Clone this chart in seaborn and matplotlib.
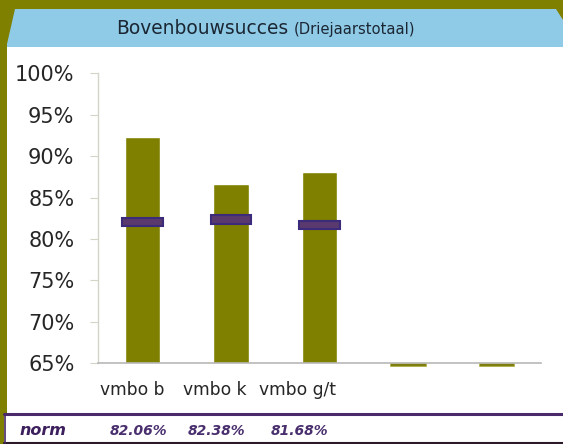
import matplotlib
matplotlib.use("Agg")
import matplotlib.pyplot as plt
from matplotlib.patches import Polygon, Rectangle
from matplotlib.lines import Line2D
from matplotlib.ticker import FuncFormatter
import matplotlib.transforms as mtransforms
import numpy as np
import pandas as pd
import seaborn as sns

# ---- data ----
categories = ["vmbo b", "vmbo k", "vmbo g/t", "", " "]
tick_labels = ["vmbo b", "vmbo k", "vmbo g/t", "", ""]
values = [92.26, 86.63, 88.10, np.nan, np.nan]
norms = [82.06, 82.38, 81.68, np.nan, np.nan]
norm_labels = ["82.06%", "82.38%", "81.68%"]
y_ticks = [65, 70, 75, 80, 85, 90, 95, 100]
title_main = "Bovenbouwsucces"
title_sub = "(Driejaarstotaal)"
norm_title = "norm"

OLIVE = "#7f7f00"
PURPLE_FILL = "#5a3a6e"
PURPLE_EDGE = "#3c2a7a"
BLUE = "#8fcae6"

sns.set_theme(style="white")
plt.rcParams["font.family"] = ["DejaVu Sans"]

W, H = 563, 444
fig = plt.figure(figsize=(W / 100, H / 100), dpi=100, facecolor=OLIVE)

def fx(px):
    return px / W

def fy(py):
    return 1 - py / H

# white panel
fig.patches.append(Rectangle((fx(7), 0), 1 - fx(7), fy(47), transform=fig.transFigure,
                             facecolor="white", edgecolor="none", zorder=0))
fig.patches.append(Rectangle((fx(4), 0), 1 - fx(4), fy(414), transform=fig.transFigure,
                             facecolor="white", edgecolor="none", zorder=0))
# title banner
banner = Polygon([(fx(15), fy(9)), (fx(556), fy(9)), (fx(563), fy(20)), (fx(563), fy(47)),
                  (fx(7), fy(47)), (fx(7), fy(44))], closed=True, transform=fig.transFigure,
                 facecolor=BLUE, edgecolor="none", zorder=1)
fig.patches.append(banner)
fig.text(fx(288), fy(33.5), title_main, ha="right", va="baseline", fontsize=13.4,
         color="#1b2633")
fig.text(fx(294), fy(33.5), title_sub, ha="left", va="baseline", fontsize=10.6,
         color="#1b2633")

# norm row lines
fig.add_artist(Line2D([fx(4), 1], [fy(414), fy(414)], transform=fig.transFigure,
                      color="#4a2a6a", lw=2.2))
fig.add_artist(Line2D([fx(4), 1], [fy(443), fy(443)], transform=fig.transFigure,
                      color="#2a1a2a", lw=1.5))
fig.add_artist(Line2D([fx(5), fx(5)], [fy(414), fy(443)], transform=fig.transFigure,
                      color="#4a2a6a", lw=1.2))

# ---- axes ----
ax = fig.add_axes([fx(98), fy(363.3), fx(541) - fx(98), fy(73.3) - fy(363.3)])
ax.set_zorder(10)
ax.set_facecolor("none")
df = pd.DataFrame({"cat": categories, "val": values})
sns.barplot(data=df, x="cat", y="val", order=categories, color=OLIVE, saturation=1,
            width=0.4, ax=ax, zorder=2)
x = np.arange(len(categories))
# empty-category stubs at baseline
for i, v in enumerate(values):
    if np.isnan(v):
        ax.bar(x[i], -0.3, bottom=y_ticks[0], width=0.4, color="#7f7f10",
               edgecolor="#b0b040", linewidth=0.5, clip_on=False, zorder=3)
# norm markers
for i, n in enumerate(norms):
    if not np.isnan(n):
        ax.bar(x[i], 1.05, bottom=n - 0.525, width=0.46, color=PURPLE_FILL,
               edgecolor=PURPLE_EDGE, linewidth=1.5, zorder=4)

ax.set_ylim(65, 100)
ax.set_xlim(-0.5, len(categories) - 0.5)
ax.set_yticks(y_ticks)
ax.yaxis.set_major_formatter(FuncFormatter(lambda v, p: f"{v:.0f}%"))
ax.set_xticks(x)
ax.set_xticklabels(tick_labels)
ax.set_xlabel("")
ax.set_ylabel("")
for s in ["top", "right"]:
    ax.spines[s].set_visible(False)
ax.spines["left"].set_color("#d4d4c8")
ax.spines["bottom"].set_color("#b8b8b8")
ax.spines["left"].set_linewidth(1.0)
ax.spines["bottom"].set_linewidth(1.2)
ax.spines["bottom"].set_zorder(5)
ax.tick_params(axis="y", which="major", direction="out", length=6, width=0.8,
               color="#d4d4c8", pad=11, labelsize=15, labelcolor="#262626", left=True)
ax.tick_params(axis="x", length=0, pad=13, labelsize=12.3, labelcolor="#262626")
# label offsets as in the reference
shifts = [-10, -16, -22, 0, 0]
for lbl, s in zip(ax.get_xticklabels(), shifts):
    lbl.set_transform(lbl.get_transform() + mtransforms.ScaledTranslation(s / 100, 0, fig.dpi_scale_trans))

# norm row text
fig.text(fx(20), fy(430), norm_title, ha="left", va="center", fontsize=11.5,
         fontweight="heavy", fontstyle="italic", color="#3d1f5e")
norm_x_px = [138, 217, 299.5]
for px, t in zip(norm_x_px, norm_labels):
    fig.text(fx(px), fy(431), t, ha="center", va="center", fontsize=10,
             fontweight="bold", fontstyle="italic", color="#4a2f6e")

fig.savefig("out.png", dpi=100, facecolor=OLIVE)
